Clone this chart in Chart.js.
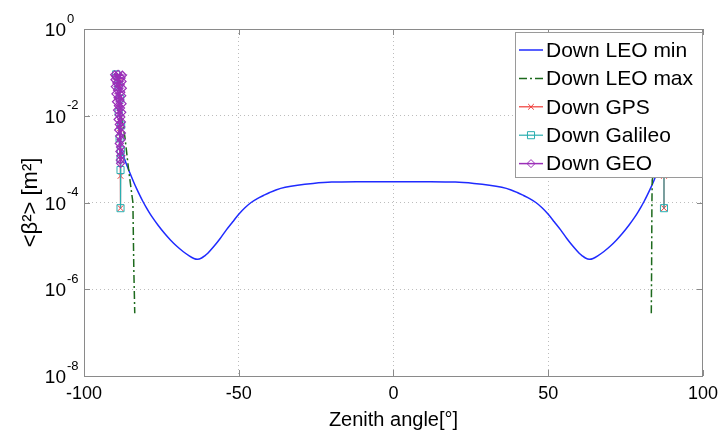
<!DOCTYPE html>
<html>
<head>
<meta charset="utf-8">
<script src="https://cdn.jsdelivr.net/npm/chart.js@4.4.1/dist/chart.umd.min.js"></script>
<style>
  body { margin: 0; background: #fff; }
</style>
</head>
<body>
<canvas id="chart" width="725" height="435"></canvas>
<script>
const seriesNames = ['Down LEO min', 'Down LEO max', 'Down GPS', 'Down Galileo', 'Down GEO'];
const xTicks = [-100, -50, 0, 50, 100];
const yTicks = [1e-8, 1e-6, 1e-4, 1e-2, 1];

// zenith angle [deg] / <beta^2> [m^2] (null = gap)
const leoMinAngle = [-88, -87, -86, -85, -84, -83, -82, -81, -80, -79, -78, -76, -74, -72, -70, -68, -66, -64.5, -63.3, -62, -61, -60, -58, -56, -54, -52, -50, -48, -46, -44, -42, -40, -38, -35, -31, -26, -20, -12, 0,
  12, 20, 26, 31, 35, 38, 40, 42, 44, 46, 48, 50, 52, 54, 56, 58, 60, 61, 62, 63.3, 64.5, 66, 68, 70, 72, 74, 76, 78, 79, 80, 81, 82, 83, 84, 85, 86, 87, 88];
const leoMinValue = [1.66e-3, 1.05e-3, 6.76e-4, 4.47e-4, 3.02e-4, 2.09e-4, 1.48e-4, 1.07e-4, 7.94e-5, 6.03e-5, 4.68e-5, 2.95e-5, 1.95e-5, 1.35e-5, 9.77e-6, 7.41e-6, 5.89e-6, 5.13e-6, 4.90e-6, 5.25e-6, 5.89e-6, 6.76e-6, 9.77e-6, 1.48e-5, 2.34e-5, 3.55e-5, 5.37e-5, 7.59e-5, 1.0e-4, 1.23e-4, 1.45e-4, 1.70e-4, 1.95e-4, 2.24e-4, 2.51e-4, 2.75e-4, 2.95e-4, 3.02e-4, 3.02e-4,
  3.02e-4, 2.95e-4, 2.75e-4, 2.51e-4, 2.24e-4, 1.95e-4, 1.70e-4, 1.45e-4, 1.23e-4, 1.0e-4, 7.59e-5, 5.37e-5, 3.55e-5, 2.34e-5, 1.48e-5, 9.77e-6, 6.76e-6, 5.89e-6, 5.25e-6, 4.90e-6, 5.13e-6, 5.89e-6, 7.41e-6, 9.77e-6, 1.35e-5, 1.95e-5, 2.95e-5, 4.68e-5, 6.03e-5, 7.94e-5, 1.07e-4, 1.48e-4, 2.09e-4, 3.02e-4, 4.47e-4, 6.76e-4, 1.05e-3, 1.66e-3];

const leoMaxAngle = [-88.0, -86.8, -85.5, -84.2, -83.9, -83.6, 0, 83.3, 83.4, 83.5, 83.6, 85.5, 86.8, 88.0];
const leoMaxValue = [1.0e-2, 3.3e-3, 5.1e-4, 1.0e-4, 2.8e-6, 2.8e-7, null, 2.8e-7, 3.0e-6, 1.0e-4, 3.3e-4, 1.5e-3, 3.3e-3, 1.0e-2];

const gpsAngle = [-88.6, -88.4, -88.3, -88.2, -88.2, -88.2, 0, 87.4, 87.4, 87.8, 88.5];
const gpsValue = [6e-2, 1.5e-2, 4e-3, 1.2e-3, 4.1e-4, 7.4e-5, null, 7.4e-5, 4.1e-4, 4e-3, 5e-2];

const galileoAngle = [-89.6, -88.9, -88.3, -88.8, -88.0, -88.5, -88.1, -88.2, -88.2, -88.2, 0, 87.4, 87.4, 87.9, 88.8];
const galileoValue = [9e-2, 5e-2, 2.5e-2, 1.2e-2, 6e-3, 3e-3, 1.6e-3, 1.0e-3, 5.6e-4, 7.4e-5, null, 7.4e-5, 5.6e-4, 5e-3, 5e-2];

const geoAngle = [-89.0, -90.1, -87.6, -89.7, -88.0, -90.0, -87.7, -89.4, -88.3, -89.9, -87.6, -89.2, -88.1, -89.7, -87.8, -89.0, -88.4, -89.5, -87.7, -88.9, -88.2, -89.2, -87.8, -88.7, -88.1, -89.0, -87.9, -88.6,
  -88.1, -88.8, -87.9, -88.5, -88.0, -88.6, -88.2, -88.4, -88.1, -88.3, -88.2,
  0, 88.3, 88.6, 89.2, 89.8];
const geoValue = [0.090, 0.088, 0.086, 0.080, 0.074, 0.068, 0.062, 0.057, 0.052, 0.047, 0.043, 0.039, 0.035, 0.032, 0.029, 0.026, 0.023, 0.021, 0.019, 0.017, 0.015, 0.0135, 0.012, 0.0105, 0.0093, 0.0082, 0.0072, 0.0063,
  0.0055, 0.0047, 0.0040, 0.0034, 0.0028, 0.0023, 0.0019, 0.0015, 0.0012, 0.00095, 0.0008,
  null, 9e-4, 5e-3, 3e-2, 8e-2];

const pts = (xs, ys) => xs.map((x, i) => ({ x: x, y: ys[i] }));

const FONT = '"Liberation Sans", Arial, sans-serif';

const framePlugin = {
  id: 'frame',
  beforeDatasetsDraw(chart) {
    const { ctx, chartArea: a, scales } = chart;
    ctx.save();
    ctx.strokeStyle = '#8a8a8a';
    ctx.lineWidth = 1;
    ctx.strokeRect(Math.round(a.left) + 0.5, Math.round(a.top) + 0.5, Math.round(a.right - a.left) - 1, Math.round(a.bottom - a.top));
    ctx.beginPath();
    xTicks.forEach(v => {
      const x = Math.round(scales.x.getPixelForValue(v)) + 0.5;
      ctx.moveTo(x, a.bottom); ctx.lineTo(x, a.bottom - 6);
      ctx.moveTo(x, a.top); ctx.lineTo(x, a.top + 6);
    });
    yTicks.forEach(v => {
      const y = Math.round(scales.y.getPixelForValue(v)) + 0.5;
      ctx.moveTo(a.left, y); ctx.lineTo(a.left + 6, y);
      ctx.moveTo(a.right, y); ctx.lineTo(a.right - 6, y);
    });
    ctx.stroke();
    ctx.restore();
  },
  afterDatasetsDraw(chart) {
    const ctx = chart.ctx;
    const x0 = 515, y0 = 32, w = 187, h = 145;
    ctx.save();
    ctx.fillStyle = '#fff';
    ctx.fillRect(x0, y0, w, h);
    ctx.strokeStyle = '#9a9a9a';
    ctx.lineWidth = 1;
    ctx.strokeRect(x0 + 0.5, y0 + 0.5, w, h);
    chart.data.datasets.forEach((ds, i) => {
      const y = y0 + 18 + i * 28.4;
      ctx.strokeStyle = ds.borderColor;
      ctx.lineWidth = ds.borderWidth;
      ctx.setLineDash(ds.borderDash || []);
      ctx.beginPath(); ctx.moveTo(x0 + 4, y); ctx.lineTo(x0 + 28, y); ctx.stroke();
      ctx.setLineDash([]);
      if (ds.pointRadius > 0) {
        ctx.fillStyle = 'rgba(0,0,0,0)';
        ctx.lineWidth = 1;
        Chart.helpers.drawPoint(ctx, { pointStyle: ds.pointStyle, radius: ds.pointRadius, borderWidth: 1, rotation: 0 }, x0 + 16, y);
      }
      ctx.fillStyle = '#000';
      ctx.font = '21px ' + FONT;
      ctx.textBaseline = 'middle';
      ctx.textAlign = 'left';
      ctx.fillText(ds.label, x0 + 31, y + 1);
    });
    ctx.restore();
  },
  afterDraw(chart) {
    const { ctx, scales } = chart;
    ctx.save();
    ctx.fillStyle = '#000';
    ctx.textBaseline = 'middle';
    yTicks.forEach(v => {
      const y = scales.y.getPixelForValue(v);
      ctx.font = '19px ' + FONT;
      ctx.textAlign = 'right';
      ctx.fillText('10', 66, y + 2);
      ctx.font = '13px ' + FONT;
      ctx.textAlign = 'left';
      ctx.fillText(String(Math.round(Math.log10(v))), 67, y - 10);
    });
    ctx.restore();
  }
};

new Chart(document.getElementById('chart'), {
  type: 'line',
  data: {
    datasets: [
      {
        label: seriesNames[0], data: pts(leoMinAngle, leoMinValue), order: 5,
        borderColor: '#1f2bff', borderWidth: 1.5, pointRadius: 0, tension: 0.3
      },
      {
        label: seriesNames[1], data: pts(leoMaxAngle, leoMaxValue), order: 4,
        borderColor: '#1d6a1d', borderWidth: 1.5, borderDash: [8, 3, 2, 3], pointRadius: 0
      },
      {
        label: seriesNames[2], data: pts(gpsAngle, gpsValue), order: 3,
        borderColor: '#f03a36', borderWidth: 1.2, pointStyle: 'crossRot', pointRadius: 4,
        pointBorderWidth: 1, pointBackgroundColor: 'rgba(0,0,0,0)'
      },
      {
        label: seriesNames[3], data: pts(galileoAngle, galileoValue), order: 2,
        borderColor: '#2aaeb0', borderWidth: 1.2, pointStyle: 'rect', pointRadius: 5,
        pointBorderWidth: 1, pointBackgroundColor: 'rgba(0,0,0,0)'
      },
      {
        label: seriesNames[4], data: pts(geoAngle, geoValue), order: 1,
        borderColor: '#9b2fb8', borderWidth: 1.5, pointStyle: 'rectRot', pointRadius: 4,
        pointBorderWidth: 1.2, pointBackgroundColor: 'rgba(0,0,0,0)'
      }
    ]
  },
  options: {
    responsive: false,
    animation: false,
    spanGaps: false,
    layout: { padding: { left: 0, top: 29, right: 18, bottom: 0 } },
    plugins: { legend: { display: false }, tooltip: { enabled: false } },
    scales: {
      x: {
        type: 'linear', min: -100, max: 100,
        afterBuildTicks: s => { s.ticks = xTicks.map(v => ({ value: v })); },
        afterFit: s => { s.height = 59; },
        grid: { color: '#bdbdbd', drawTicks: false },
        border: { display: false, dash: [1, 3] },
        ticks: { color: '#000', padding: 7, maxRotation: 0, font: { family: FONT, size: 18 } },
        title: { display: true, text: 'Zenith angle[°]', color: '#000', font: { family: FONT, size: 20 }, padding: { top: 0, bottom: 3 } }
      },
      y: {
        type: 'logarithmic', min: 1e-8, max: 1,
        afterBuildTicks: s => { s.ticks = yTicks.map(v => ({ value: v })); },
        afterFit: s => { s.width = 84; },
        grid: { color: '#bdbdbd', drawTicks: false },
        border: { display: false, dash: [1, 3] },
        ticks: { display: false },
        title: { display: true, text: '<β²> [m²]', color: '#000', font: { family: FONT, size: 22 }, padding: { top: 18, bottom: 0 } }
      }
    }
  },
  plugins: [framePlugin]
});
</script>
</body>
</html>
